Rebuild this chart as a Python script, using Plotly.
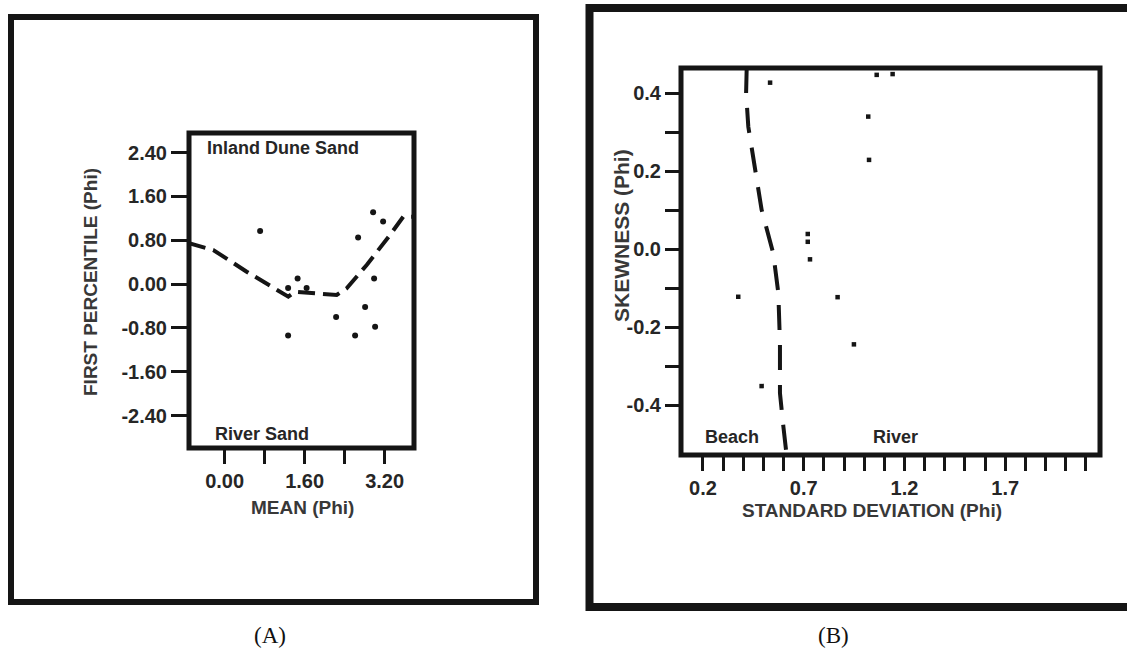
import plotly.graph_objects as go

W, H = 1127, 655

# ---------------- Data: panel A ----------------
a_mean = [0.71, 2.97, 3.17, 2.67, 1.46, 1.27, 1.64, 2.99, 2.81, 2.23, 3.01, 1.27, 2.61]
a_first = [0.97, 1.31, 1.14, 0.85, 0.10, -0.07, -0.07, 0.10, -0.42, -0.60, -0.78, -0.94, -0.94]
a_line_x = [-0.712, -0.226, 0.442, 1.274, 1.408, 1.774, 2.242, 2.442, 2.842, 3.308, 3.574, 3.788]
a_line_y = [0.745, 0.622, 0.226, -0.230, -0.139, -0.168, -0.199, -0.077, 0.349, 0.896, 1.230, 1.230]
a_xtick_vals = [0.0, 0.8, 1.6, 2.4, 3.2]
a_xtick_text = ["0.00", "", "1.60", "", "3.20"]
a_ytick_vals = [-2.4, -1.6, -0.8, 0.0, 0.8, 1.6, 2.4]
a_ytick_text = ["-2.40", "-1.60", "-0.80", "0.00", "0.80", "1.60", "2.40"]

# ---------------- Data: panel B ----------------
b_sd = [0.533, 1.062, 1.141, 1.020, 1.024, 0.720, 0.720, 0.731, 0.375, 0.868, 0.949, 0.491]
b_skew = [0.427, 0.447, 0.449, 0.340, 0.229, 0.039, 0.019, -0.026, -0.122, -0.123, -0.244, -0.351]
b_line_x = [0.417, 0.414, 0.425, 0.458, 0.491, 0.549, 0.574, 0.582, 0.582, 0.599, 0.615]
b_line_y = [0.4646, 0.400, 0.314, 0.212, 0.101, -0.011, -0.113, -0.241, -0.369, -0.455, -0.528]
b_xtick_vals = [round(0.2 + 0.1 * i, 1) for i in range(20)]
b_xtick_text = ["0.2", "", "", "", "", "0.7", "", "", "", "", "1.2", "", "", "", "", "1.7", "", "", "", ""]
b_ytick_vals = [-0.4, -0.3, -0.2, -0.1, 0.0, 0.1, 0.2, 0.3, 0.4]
b_ytick_text = ["-0.4", "", "-0.2", "", "0.0", "", "0.2", "", "0.4"]


def px(x):
    return x / W


def py(y):
    return 1 - y / H


INK = "#151515"
TXT = "#262626"
SANS = "Liberation Sans, Arial, sans-serif"

fig = go.Figure()

fig.add_trace(go.Scatter(x=a_line_x, y=a_line_y, mode="lines", xaxis="x", yaxis="y",
                         line=dict(color=INK, width=4, dash="17px,8px"), hoverinfo="skip"))
fig.add_trace(go.Scatter(x=a_mean, y=a_first, mode="markers", xaxis="x", yaxis="y",
                         marker=dict(color=INK, size=6)))
fig.add_trace(go.Scatter(x=b_line_x, y=b_line_y, mode="lines", xaxis="x2", yaxis="y2",
                         line=dict(color=INK, width=4, dash="25px,15px"), hoverinfo="skip"))
fig.add_trace(go.Scatter(x=b_sd, y=b_skew, mode="markers", xaxis="x2", yaxis="y2",
                         marker=dict(color=INK, size=4.5, symbol="square")))

tickfont_a = dict(family=SANS, size=20, color=TXT, weight="bold")
tickfont_b = dict(family=SANS, size=20, color=TXT, weight="bold")

common = dict(showgrid=False, zeroline=False, showline=False, ticks="outside",
              tickcolor=INK, tickwidth=3, fixedrange=True)

fig.update_layout(
    width=W, height=H,
    margin=dict(l=0, r=0, t=0, b=0),
    paper_bgcolor="white", plot_bgcolor="white",
    showlegend=False,
    xaxis=dict(domain=[px(189), px(414)], range=[-0.712, 3.788], anchor="y",
               tickmode="array", tickvals=a_xtick_vals, ticktext=a_xtick_text,
               ticklen=15, tickfont=tickfont_a, **common),
    yaxis=dict(domain=[py(448), py(133)], range=[-2.991, 2.757], anchor="x",
               tickmode="array", tickvals=a_ytick_vals, ticktext=a_ytick_text,
               ticklen=17, tickfont=tickfont_a, **common),
    xaxis2=dict(domain=[px(681), px(1100)], range=[0.091, 2.170], anchor="y2",
                tickmode="array", tickvals=b_xtick_vals, ticktext=b_xtick_text,
                ticklen=15, tickfont=tickfont_b, **common),
    yaxis2=dict(domain=[py(455), py(68)], range=[-0.5277, 0.4646], anchor="x2",
                tickmode="array", tickvals=b_ytick_vals, ticktext=b_ytick_text,
                ticklen=15, tickfont=tickfont_b, **common),
)

shapes = [
    # outer frames
    dict(type="rect", xref="paper", yref="paper", x0=px(11), x1=px(536), y0=py(602), y1=py(17),
         line=dict(color=INK, width=6)),
    dict(type="rect", xref="paper", yref="paper", x0=px(589.5), x1=px(1133), y0=py(607), y1=py(8),
         line=dict(color=INK, width=8)),
    # plot frames
    dict(type="rect", xref="x domain", yref="y domain", x0=0, x1=1, y0=0, y1=1,
         line=dict(color=INK, width=5)),
    dict(type="rect", xref="x2 domain", yref="y2 domain", x0=0, x1=1, y0=0, y1=1,
         line=dict(color=INK, width=5)),
]
fig.update_layout(shapes=shapes)

lab = dict(family=SANS, size=18, color=TXT, weight="bold")
ttl = dict(family=SANS, size=19, color="#383838", weight="bold")
ttl_b = dict(family=SANS, size=21, color="#383838", weight="bold")
ser = dict(family="Liberation Serif, Times New Roman, serif", size=23, color="#111111")

ann = [
    dict(text="Inland Dune Sand", x=px(205), y=py(147.5), xanchor="left", yanchor="middle", font=lab),
    dict(text="River Sand", x=px(213), y=py(434), xanchor="left", yanchor="middle", font=lab),
    dict(text="Beach", x=px(703), y=py(437), xanchor="left", yanchor="middle", font=lab),
    dict(text="River", x=px(871), y=py(437), xanchor="left", yanchor="middle", font=lab),
    dict(text="FIRST PERCENTILE (Phi)", x=px(90), y=py(282), textangle=-90,
         xanchor="center", yanchor="middle", font=ttl),
    dict(text="MEAN (Phi)", x=px(302), y=py(507), xanchor="center", yanchor="middle", font=ttl),
    dict(text="SKEWNESS (Phi)", x=px(621), y=py(235), textangle=-90,
         xanchor="center", yanchor="middle", font=ttl_b),
    dict(text="STANDARD DEVIATION (Phi)", x=px(872), y=py(510), xanchor="center", yanchor="middle", font=ttl),
    dict(text="(A)", x=px(270), y=py(635), xanchor="center", yanchor="middle", font=ser),
    dict(text="(B)", x=px(833), y=py(635), xanchor="center", yanchor="middle", font=ser),
]
for a in ann:
    a.update(xref="paper", yref="paper", showarrow=False)
fig.update_layout(annotations=ann)

fig.write_html("out.html")
